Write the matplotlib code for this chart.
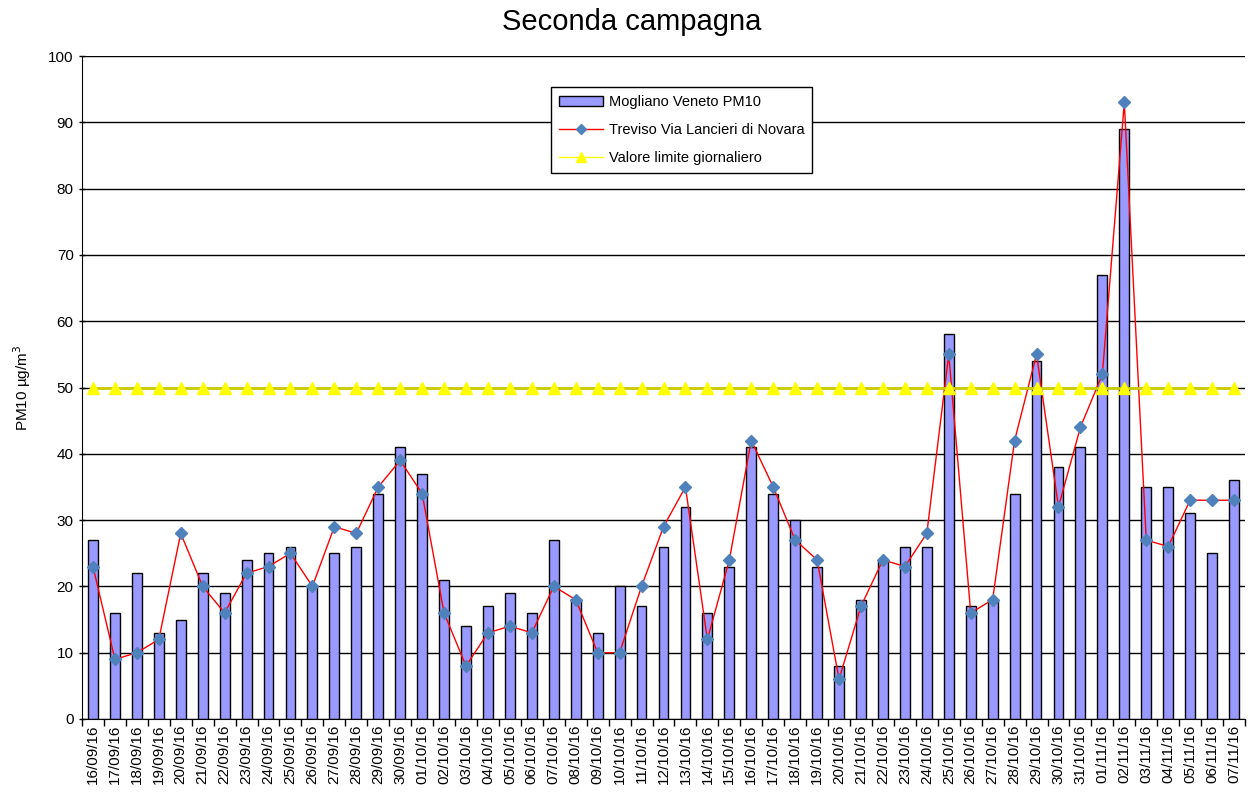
import numpy as np
import matplotlib.pyplot as plt
import matplotlib.lines as mlines
from matplotlib.ticker import FixedLocator

plt.rcParams['font.family'] = ['Liberation Sans', 'DejaVu Sans']

giorni = ["16/09/16", "17/09/16", "18/09/16", "19/09/16", "20/09/16", "21/09/16", "22/09/16",
          "23/09/16", "24/09/16", "25/09/16", "26/09/16", "27/09/16", "28/09/16", "29/09/16",
          "30/09/16", "01/10/16", "02/10/16", "03/10/16", "04/10/16", "05/10/16", "06/10/16",
          "07/10/16", "08/10/16", "09/10/16", "10/10/16", "11/10/16", "12/10/16", "13/10/16",
          "14/10/16", "15/10/16", "16/10/16", "17/10/16", "18/10/16", "19/10/16", "20/10/16",
          "21/10/16", "22/10/16", "23/10/16", "24/10/16", "25/10/16", "26/10/16", "27/10/16",
          "28/10/16", "29/10/16", "30/10/16", "31/10/16", "01/11/16", "02/11/16", "03/11/16",
          "04/11/16", "05/11/16", "06/11/16", "07/11/16"]

mogliano = [27, 16, 22, 13, 15, 22, 19, 24, 25, 26, 20, 25, 26, 34, 41, 37, 21, 14, 17, 19,
            16, 27, 18, 13, 20, 17, 26, 32, 16, 23, 41, 34, 30, 23, 8, 18, 24, 26, 26, 58,
            17, 18, 34, 54, 38, 41, 67, 89, 35, 35, 31, 25, 36]

treviso = [23, 9, 10, 12, 28, 20, 16, 22, 23, 25, 20, 29, 28, 35, 39, 34, 16, 8, 13, 14,
           13, 20, 18, 10, 10, 20, 29, 35, 12, 24, 42, 35, 27, 24, 6, 17, 24, 23, 28, 55,
           16, 18, 42, 55, 32, 44, 52, 93, 27, 26, 33, 33, 33]

limite = [50] * len(giorni)

x = np.arange(len(giorni))

fig = plt.figure(figsize=(12.48, 8.01), dpi=100)
ax = fig.add_axes([82 / 1248, 1 - 719 / 801, (1245 - 82) / 1248, (719 - 56) / 801])

barre = ax.bar(x, mogliano, width=0.45, color='#9999ff', edgecolor='black', linewidth=1,
               label='Mogliano Veneto PM10', zorder=2)
ax.plot(x, treviso, color='red', linewidth=1, marker='D', markersize=6,
        markerfacecolor='#4f81bd', markeredgecolor='#4f81bd', zorder=3)
ax.plot(x, limite, color='#cccc00', linewidth=2, marker='^', markersize=8,
        markerfacecolor='yellow', markeredgecolor='yellow', zorder=4)

ax.set_xlim(-0.5, len(giorni) - 0.5)
ax.set_ylim(0, 100)
ax.set_yticks(range(0, 101, 10))
ax.yaxis.grid(True, color='black', linewidth=1)
ax.set_axisbelow(True)

ax.set_xticks(x)
ax.set_xticklabels(giorni, rotation=90, fontsize=11)
ax.tick_params(axis='x', length=0, pad=4)
ax.xaxis.set_minor_locator(FixedLocator(np.arange(-0.5, len(giorni), 1)))
ax.tick_params(axis='x', which='minor', length=5, direction='out', width=1)
ax.tick_params(axis='y', length=5, direction='inout', labelsize=11, width=1)

for s in ['top', 'right']:
    ax.spines[s].set_visible(False)

ax.set_ylabel('PM10 µg/m$^3$', fontsize=11, labelpad=11)
fig.text(0.506, 1 - 22 / 801, 'Seconda campagna', ha='center', va='center', fontsize=21)

# legenda
h_lin = mlines.Line2D([], [], color='red', linewidth=1, marker='D', markersize=5,
                      markerfacecolor='#4f81bd', markeredgecolor='#4f81bd')
h_lim = mlines.Line2D([], [], color='yellow', linewidth=1, marker='^', markersize=7,
                      markerfacecolor='yellow', markeredgecolor='yellow')
leg = ax.legend([barre, h_lin, h_lim],
                ['Mogliano Veneto PM10', 'Treviso Via Lancieri di Novara', 'Valore limite giornaliero'],
                loc='upper left', bbox_to_anchor=((551 - 82) / 1163, 1 - (87 - 56) / 663),
                fontsize=10.5, frameon=True, fancybox=False, edgecolor='black', framealpha=1,
                borderpad=0.55, labelspacing=0.95, handlelength=3.0, handletextpad=0.4,
                borderaxespad=0)
leg.get_frame().set_linewidth(1)

fig.savefig('out.png', dpi=100)
